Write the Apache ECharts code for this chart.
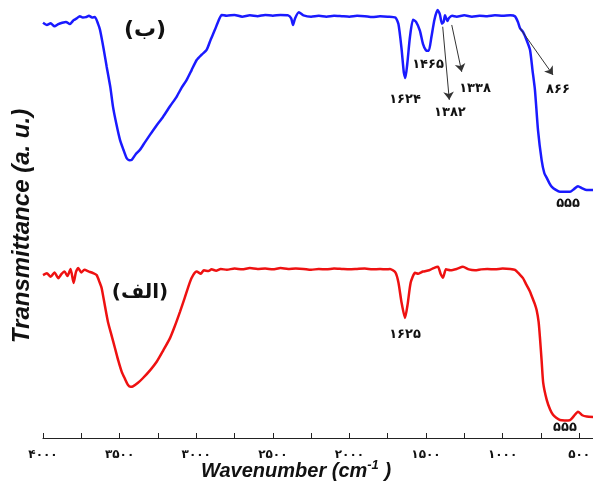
<!DOCTYPE html>
<html>
<head>
<meta charset="utf-8">
<title>FTIR</title>
<script src="https://cdn.jsdelivr.net/npm/echarts@6/dist/echarts.min.js"></script>
<style>
  html, body { margin: 0; padding: 0; background: #fff; }
  #main { width: 593px; height: 481px; }
</style>
</head>
<body>
<div id="main"></div>
<script>
// wavenumber ticks (cm-1), labels shown in Persian digits
var tickValues = [500, 1000, 1500, 2000, 2500, 3000, 3500, 4000];
var minorTickValues = [500, 750, 1000, 1250, 1500, 1750, 2000, 2250, 2500, 2750, 3000, 3250, 3500, 3750, 4000];

// spectrum (ب) - blue, [wavenumber, transmittance a.u.]
var blueSpectrum = [
  [4000,94.8],[3975,94.3],[3950,94.7],[3925,94.0],[3900,94.5],[3875,94.8],[3850,95.0],[3825,94.5],
  [3800,95.4],[3780,95.8],[3760,96.3],[3740,96.0],[3720,96.1],[3700,96.4],[3680,96.0],[3661,96.1],
  [3640,94.5],[3628,93.2],[3605,89.0],[3584,84.7],[3560,80.0],[3543,75.6],[3520,71.5],[3497,68.0],
  [3475,65.8],[3454,63.9],[3435,63.4],[3421,63.5],[3395,64.8],[3367,65.8],[3335,67.5],[3302,69.2],
  [3260,71.3],[3217,73.3],[3170,75.8],[3128,77.9],[3095,80.0],[3063,81.7],[3030,84.0],[2997,86.3],
  [2965,87.5],[2932,88.6],[2905,91.0],[2878,93.2],[2855,95.2],[2834,96.6],[2800,96.4],[2750,96.6],
  [2700,96.2],[2650,96.5],[2600,96.3],[2550,96.6],[2500,96.4],[2450,96.6],[2400,96.5],[2380,95.8],
  [2368,94.3],[2355,95.8],[2330,97.2],[2300,96.5],[2250,96.2],[2200,96.4],[2150,96.2],[2100,96.4],
  [2050,96.3],[2000,96.2],[1950,96.4],[1900,96.3],[1850,96.1],[1800,96.3],[1750,96.2],[1700,96.0],
  [1680,94.5],[1660,89.0],[1645,83.5],[1635,82.2],[1622,85.5],[1605,91.5],[1585,95.5],[1565,95.0],
  [1540,93.0],[1520,90.0],[1500,88.5],[1482,88.4],[1465,91.5],[1445,95.5],[1425,97.7],[1410,96.8],
  [1396,94.6],[1385,95.0],[1376,96.5],[1360,95.2],[1350,95.9],[1330,96.4],[1300,96.2],[1250,96.5],
  [1200,96.2],[1150,96.4],[1100,96.3],[1050,96.5],[1000,96.4],[950,96.5],[920,96.3],[900,95.0],
  [887,93.6],[867,92.7],[845,91.0],[821,88.6],[805,84.0],[789,79.5],[769,70.3],[745,63.4],
  [728,60.5],[712,59.4],[695,58.2],[680,57.4],[655,56.7],[626,56.2],[595,56.2],[560,56.2],
  [535,56.8],[508,57.5],[480,57.0],[451,56.6],[410,56.6]
];

// spectrum (الف) - red
var redSpectrum = [
  [4000,37.2],[3975,37.6],[3950,36.8],[3925,37.8],[3900,36.5],[3880,37.4],[3860,38.0],[3840,37.0],
  [3820,38.6],[3800,35.4],[3785,37.9],[3770,38.8],[3750,37.8],[3730,38.4],[3700,38.0],[3670,37.6],
  [3650,37.2],[3630,35.5],[3617,34.2],[3595,30.0],[3576,26.5],[3553,23.5],[3530,20.5],[3508,17.6],
  [3486,15.1],[3465,13.5],[3445,12.1],[3428,11.7],[3413,11.8],[3380,12.6],[3347,13.7],[3300,15.5],
  [3258,17.4],[3215,20.0],[3171,22.8],[3140,25.5],[3106,28.8],[3075,32.0],[3041,35.6],[3020,37.2],
  [2997,38.0],[2970,37.5],[2950,38.3],[2920,38.1],[2900,38.5],[2870,38.2],[2840,38.6],[2800,38.4],
  [2750,38.7],[2700,38.5],[2650,38.8],[2600,38.6],[2550,38.7],[2500,38.5],[2450,38.8],[2400,38.6],
  [2350,38.7],[2300,38.6],[2250,38.4],[2200,38.6],[2150,38.5],[2100,38.7],[2050,38.6],[2000,38.5],
  [1950,38.6],[1900,38.7],[1850,38.5],[1800,38.6],[1760,38.5],[1735,38.6],[1700,37.8],[1680,35.5],
  [1660,31.0],[1637,27.4],[1620,30.5],[1600,35.5],[1572,37.7],[1550,37.5],[1520,38.0],[1480,38.3],
  [1450,38.8],[1422,39.1],[1405,37.5],[1389,36.6],[1370,38.5],[1340,38.3],[1300,38.6],[1259,39.1],
  [1220,38.5],[1180,38.3],[1140,38.5],[1100,38.6],[1050,38.5],[1000,38.7],[950,38.6],[919,38.4],
  [890,37.4],[867,36.5],[845,35.0],[821,33.4],[800,31.5],[789,30.5],[778,29.2],[765,26.5],
  [756,22.8],[745,17.5],[735,12.6],[712,8.7],[690,6.5],[671,5.3],[650,4.6],[626,4.1],
  [595,4.0],[560,4.1],[535,5.0],[508,6.0],[480,5.2],[451,4.9],[410,4.8]
];

// peak annotations [wavenumber, value, text]
var bluePeakLabels = [
  [3334, 93.2, '(ب)'],
  [1637, 77.2, '۱۶۲۴'],
  [1487, 85.2, '۱۴۶۵'],
  [1344, 74.2, '۱۳۸۲'],
  [1180, 79.7, '۱۳۳۸'],
  [639, 79.5, '۸۶۶'],
  [573, 53.4, '۵۵۵']
];
var redPeakLabels = [
  [3367, 33.1, '(الف)'],
  [1637, 23.5, '۱۶۲۵'],
  [593, 2.3, '۵۵۵']
];
// arrows [fromW, fromV, toW, toV]
var blueArrows = [
  [1391, 93.9, 1348, 77.2],
  [1332, 94.3, 1267, 83.6],
  [887, 93.6, 671, 82.9]
];

function toPersian(s) {
  return String(s).replace(/[0-9]/g, function (d) { return '۰۱۲۳۴۵۶۷۸۹'[+d]; });
}

function labelPoints(list, bigSize) {
  return list.map(function (p) {
    var big = p[2].charAt(0) === '(';
    return {
      coord: [p[0], p[1]],
      value: p[2],
      symbol: 'circle',
      symbolSize: 1,
      itemStyle: { color: 'rgba(0,0,0,0)' },
      label: {
        show: true,
        position: 'inside',
        formatter: p[2],
        color: '#111',
        fontWeight: 'bold',
        fontSize: big ? bigSize : 13,
        fontFamily: 'DejaVu Sans'
      }
    };
  });
}

function arrowLines(list) {
  return list.map(function (a) {
    return [{ coord: [a[0], a[1]] }, { coord: [a[2], a[3]] }];
  });
}

var chart = echarts.init(document.getElementById('main'));
chart.setOption({
  animation: false,
  backgroundColor: '#fff',
  grid: { left: 43, right: 0, top: 0, bottom: 43, outerBoundsMode: 'none', containLabel: false },
  xAxis: {
    type: 'value',
    inverse: true,
    min: 410,
    max: 4000,
    name: 'Wavenumber (cm{sup|-1} )',
    nameLocation: 'middle',
    nameGap: 21,
    nameMoveOverlap: false,
    nameTextStyle: {
      color: '#111',
      fontSize: 20,
      fontWeight: 'bold',
      fontStyle: 'italic',
      fontFamily: 'Liberation Sans',
      padding: [0, 44, 0, 0],
      rich: {
        sup: { fontSize: 13, fontWeight: 'bold', fontStyle: 'italic', fontFamily: 'Liberation Sans', verticalAlign: 'top', padding: [0, 0, 12, 0], color: '#111' }
      }
    },
    axisLine: { show: true, lineStyle: { color: '#222', width: 1.2 } },
    axisTick: { show: true, inside: true, length: 5, customValues: minorTickValues, lineStyle: { color: '#222' } },
    axisLabel: {
      customValues: tickValues,
      formatter: function (v) { return toPersian(v); },
      color: '#111',
      fontSize: 12,
      fontWeight: 'bold',
      fontFamily: 'DejaVu Sans',
      margin: 11
    },
    splitLine: { show: false }
  },
  yAxis: {
    type: 'value',
    min: 0,
    max: 100,
    name: 'Transmittance (a. u.)',
    nameLocation: 'middle',
    nameRotate: 90,
    nameGap: 9,
    nameMoveOverlap: false,
    nameTextStyle: {
      color: '#111',
      fontSize: 24,
      fontWeight: 'bold',
      fontStyle: 'italic',
      fontFamily: 'Liberation Sans',
      padding: [0, 14, 0, 0]
    },
    axisLine: { show: false },
    axisTick: { show: false },
    axisLabel: { show: false },
    splitLine: { show: false }
  },
  series: [
    {
      type: 'line',
      data: blueSpectrum,
      showSymbol: false,
      smooth: 0.2,
      lineStyle: { color: '#1a1aff', width: 2.5 },
      markPoint: { silent: true, data: labelPoints(bluePeakLabels, 22) },
      markLine: {
        silent: true,
        symbol: ['none', 'arrow'],
        symbolSize: 8,
        label: { show: false },
        lineStyle: { color: '#333', width: 1, type: 'solid' },
        data: arrowLines(blueArrows)
      }
    },
    {
      type: 'line',
      data: redSpectrum,
      showSymbol: false,
      smooth: 0.2,
      lineStyle: { color: '#ee1111', width: 2.5 },
      markPoint: { silent: true, data: labelPoints(redPeakLabels, 20) }
    }
  ]
});
</script>
</body>
</html>
